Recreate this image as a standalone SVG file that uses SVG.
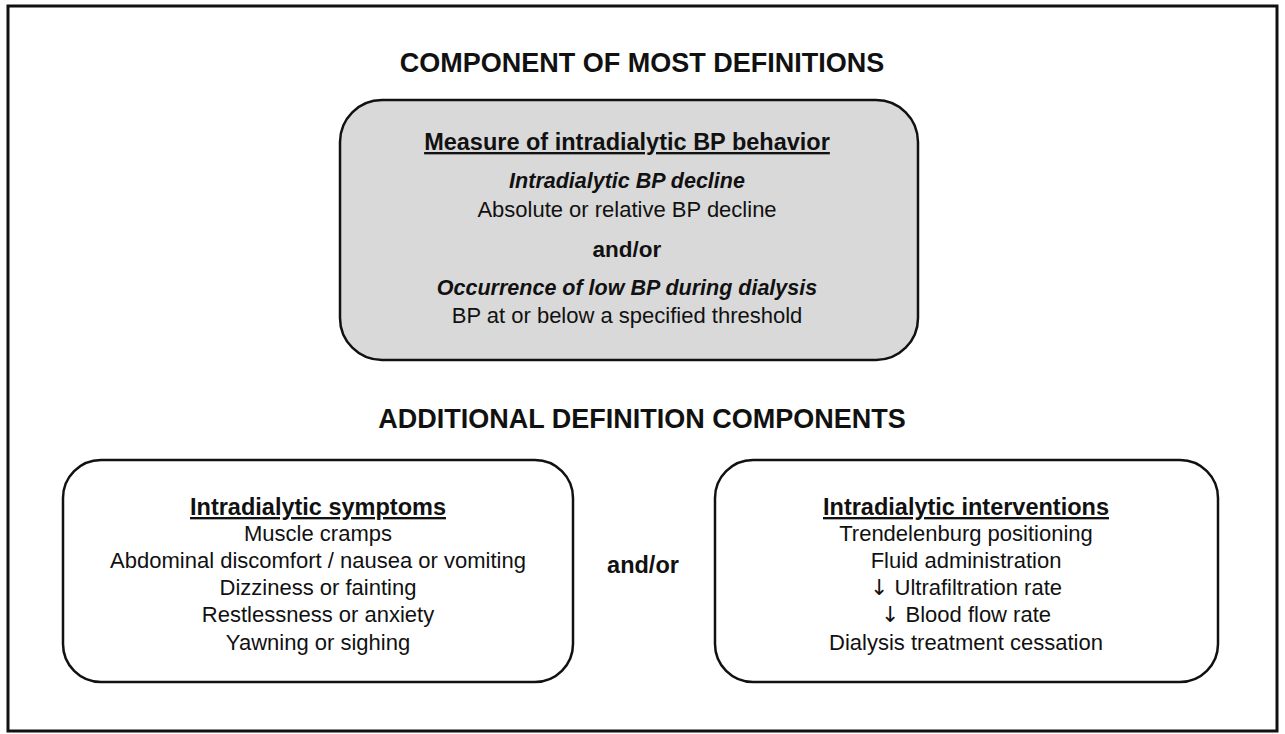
<svg xmlns="http://www.w3.org/2000/svg" width="1285" height="734" viewBox="0 0 1285 734">
<style>
text{font-family:"Liberation Sans",Arial,sans-serif;fill:#111;text-anchor:middle}
.h{font-size:27px;font-weight:bold}
.t{font-size:23.5px;font-weight:bold;text-decoration:underline}
.bi{font-size:21.5px;font-weight:bold;font-style:italic}
.b{font-size:22.5px;font-weight:bold}
.n{font-size:22px}
.ar{font-family:"DejaVu Sans",sans-serif}
.box{stroke:#111;stroke-width:2.5}
</style>
<rect x="0" y="0" width="1285" height="734" fill="#fff"/>
<rect x="8" y="6" width="1269" height="725" fill="#fff" stroke="#111" stroke-width="3"/>
<text class="h" x="642" y="72">COMPONENT OF MOST DEFINITIONS</text>
<text class="h" x="642" y="428">ADDITIONAL DEFINITION COMPONENTS</text>
<g id="measure">
<rect class="box" x="340" y="100" width="578" height="260" rx="42" fill="#d9d9d9"/>
<text class="t" x="627" y="150">Measure of intradialytic BP behavior</text>
<text class="bi" x="627" y="188">Intradialytic BP decline</text>
<text class="n" x="627" y="217">Absolute or relative BP decline</text>
<text class="b" x="627" y="257">and/or</text>
<text class="bi" x="627" y="295">Occurrence of low BP during dialysis</text>
<text class="n" x="627" y="323">BP at or below a specified threshold</text>
</g>
<g id="symptoms">
<rect class="box" x="63" y="460" width="510" height="222" rx="38" fill="#fff"/>
<text class="t" x="318" y="515">Intradialytic symptoms</text>
<text class="n" x="318" y="541">Muscle cramps</text>
<text class="n" x="318" y="568">Abdominal discomfort / nausea or vomiting</text>
<text class="n" x="318" y="595">Dizziness or fainting</text>
<text class="n" x="318" y="622">Restlessness or anxiety</text>
<text class="n" x="318" y="650">Yawning or sighing</text>
</g>
<text class="b" x="643" y="573" style="font-size:23.5px">and/or</text>
<g id="interventions">
<rect class="box" x="715" y="460" width="503" height="222" rx="38" fill="#fff"/>
<text class="t" x="966" y="515">Intradialytic interventions</text>
<text class="n" x="966" y="541">Trendelenburg positioning</text>
<text class="n" x="966" y="568">Fluid administration</text>
<text class="n" x="966" y="595"><tspan class="ar">↓</tspan> Ultrafiltration rate</text>
<text class="n" x="966" y="622"><tspan class="ar">↓</tspan> Blood flow rate</text>
<text class="n" x="966" y="650">Dialysis treatment cessation</text>
</g>
<g id="connectors"></g>
</svg>
